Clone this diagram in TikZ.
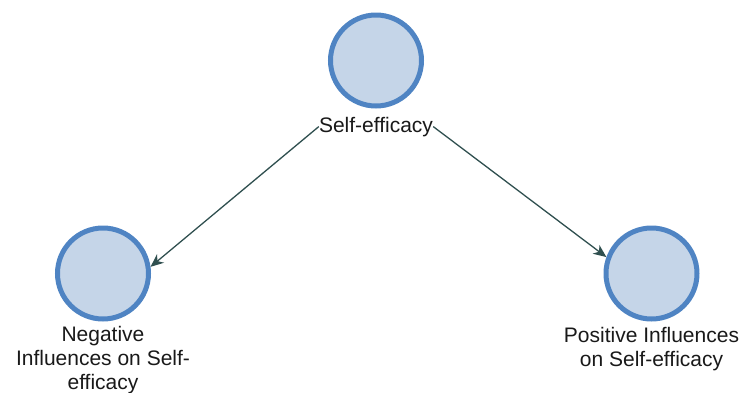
\documentclass[tikz,border=0pt]{standalone}
\usepackage{fontspec}
\setmainfont{Liberation Sans}
\usetikzlibrary{arrows.meta}
\definecolor{ringblue}{RGB}{79,132,195}
\definecolor{ballfill}{RGB}{197,213,232}
\definecolor{linkgray}{RGB}{47,79,79}
\begin{document}
\begin{tikzpicture}[x=1pt,y=-1pt,
  ball/.style={circle,draw=ringblue,fill=ballfill,line width=5pt,
    minimum size=91pt,inner sep=0pt},
  caption/.style={inner sep=0pt,align=center,text=black!90,
    font=\fontsize{21}{24}\selectfont},
  link/.style={draw=linkgray,line width=1.3pt,
    -{Stealth[length=13pt,width=11pt,inset=4pt]}}]
  \useasboundingbox (0,0) rectangle (745,392);
  % circles
  \node[ball] (top) at (376,60.5) {};
  \node[ball] (neg) at (103,273.5) {};
  \node[ball] (pos) at (651.5,273.5) {};
  % captions
  \node[caption,anchor=base] (topl) at (376,132) {Self-efficacy};
  \node[caption,anchor=north] (negl) at (103,326.5)
    {Negative\\Influences on Self-\\efficacy};
  \node[caption,anchor=north] (posl) at (651.5,327.5)
    {Positive Influences\\on Self-efficacy};
  % connectors
  \draw[link] (topl.west) -- (neg.8);
  \draw[link] (topl.east) -- (pos.160);
\end{tikzpicture}
\end{document}
